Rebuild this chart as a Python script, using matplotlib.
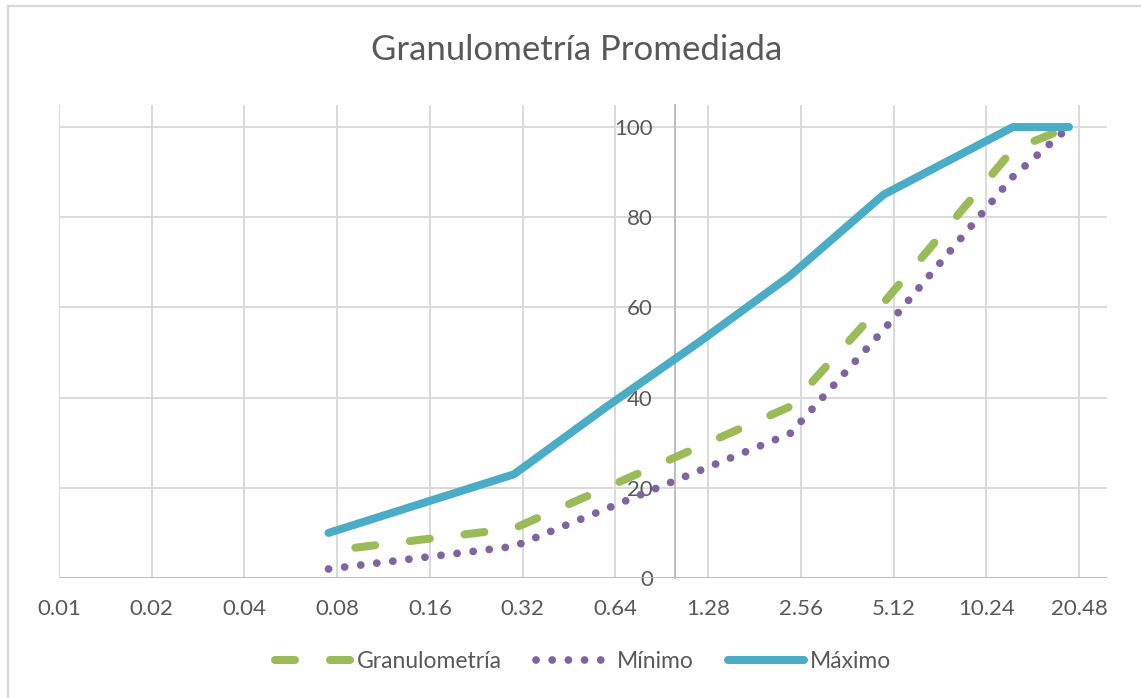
import matplotlib
matplotlib.use("Agg")
import matplotlib.pyplot as plt
from matplotlib.lines import Line2D
from matplotlib.ticker import FixedLocator, NullLocator

plt.rcParams['font.family'] = ['Lato', 'DejaVu Sans']
plt.rcParams['lines.scale_dashes'] = False

title = "Granulometría Promediada"
x_ticks = [0.01, 0.02, 0.04, 0.08, 0.16, 0.32, 0.64, 1.28, 2.56, 5.12, 10.24, 20.48]
x_tick_labels = ["0.01", "0.02", "0.04", "0.08", "0.16", "0.32", "0.64", "1.28",
                 "2.56", "5.12", "10.24", "20.48"]
y_ticks = [0, 20, 40, 60, 80, 100]

gran_x = [0.075, 0.3, 2.36, 4.75, 12.5, 19.0]
gran_y = [6, 11, 38, 61, 95, 100]
min_x = [0.075, 0.3, 2.36, 4.75, 12.5, 19.0]
min_y = [2, 7, 32, 55, 89, 100]
max_x = [0.075, 0.3, 0.6, 1.18, 2.36, 4.75, 12.5, 19.0]
max_y = [10, 23, 38, 52, 67, 85, 100, 100]

GREEN = "#9BBB59"
PURPLE = "#8064A2"
CYAN = "#4BACC6"
TEXT = "#595959"
GRID = "#D9D9D9"
AXIS = "#BFBFBF"

W, H = 1141, 698
fig = plt.figure(figsize=(W / 100, H / 100), dpi=100)
fig.patch.set_facecolor("white")

L, R, T, B = 59, 1107, 104.5, 578
ax = fig.add_axes([L / W, (H - B) / H, (R - L) / W, (B - T) / H])
ax.set_xscale("log", base=2)
ax.set_xlim(0.01, 25.25)
ax.set_ylim(0, 105)

for s in ["top", "right", "bottom"]:
    ax.spines[s].set_visible(False)
ax.spines["left"].set_position(("data", 1.0))
ax.spines["left"].set_color(AXIS)
ax.spines["left"].set_linewidth(1.4)
ax.axhline(0, color=AXIS, lw=1.4, zorder=1)

ax.xaxis.set_major_locator(FixedLocator(x_ticks))
ax.xaxis.set_minor_locator(NullLocator())
ax.set_xticklabels(x_tick_labels)
ax.yaxis.set_major_locator(FixedLocator(y_ticks))
ax.tick_params(axis="x", length=0, pad=15, labelsize=16, labelcolor=TEXT)
ax.tick_params(axis="y", length=0, pad=16, labelsize=16, labelcolor=TEXT)
for t in ax.get_yticklabels():
    t.set_horizontalalignment("right")

ax.grid(True, which="major", color=GRID, lw=1.4, zorder=0)
ax.set_axisbelow(True)

ax.plot(gran_x, gran_y, color=GREEN, lw=5.8, solid_capstyle="round",
        dash_capstyle="round", linestyle=(20.2, (14.4, 25.2)), zorder=3,
        label="Granulometría")
ax.plot(min_x, min_y, color=PURPLE, lw=5.6, dash_capstyle="round",
        linestyle=(0, (0.05, 11.6)), zorder=3, label="Mínimo")
ax.plot(max_x, max_y, color=CYAN, lw=5.8, solid_capstyle="round",
        solid_joinstyle="round", zorder=4, label="Máximo")

fig.text(577 / W, (H - 50) / H, title, ha="center", va="center", fontsize=25,
         color=TEXT)

handles = [
    Line2D([], [], color=GREEN, lw=5.8, dash_capstyle="round",
           linestyle=(0, (14.4, 25.2))),
    Line2D([], [], color=PURPLE, lw=5.6, dash_capstyle="round",
           linestyle=(0, (0.05, 11.6))),
    Line2D([], [], color=CYAN, lw=5.8, solid_capstyle="round"),
]
leg = fig.legend(handles, ["Granulometría", "Mínimo", "Máximo"],
                 loc="center", bbox_to_anchor=(583 / W, (H - 662) / H), ncol=3,
                 frameon=False, fontsize=16.5, handlelength=3.3,
                 handletextpad=0.25, columnspacing=1.5)
for t in leg.get_texts():
    t.set_color(TEXT)

# chart border (top and left visible)
fig.add_artist(Line2D([8 / W, 8 / W], [0, (H - 6) / H], color=GRID, lw=1.6,
                      transform=fig.transFigure))
fig.add_artist(Line2D([8 / W, 1], [(H - 6) / H, (H - 6) / H], color=GRID,
                      lw=1.6, transform=fig.transFigure))

fig.savefig("out.png", dpi=100)
